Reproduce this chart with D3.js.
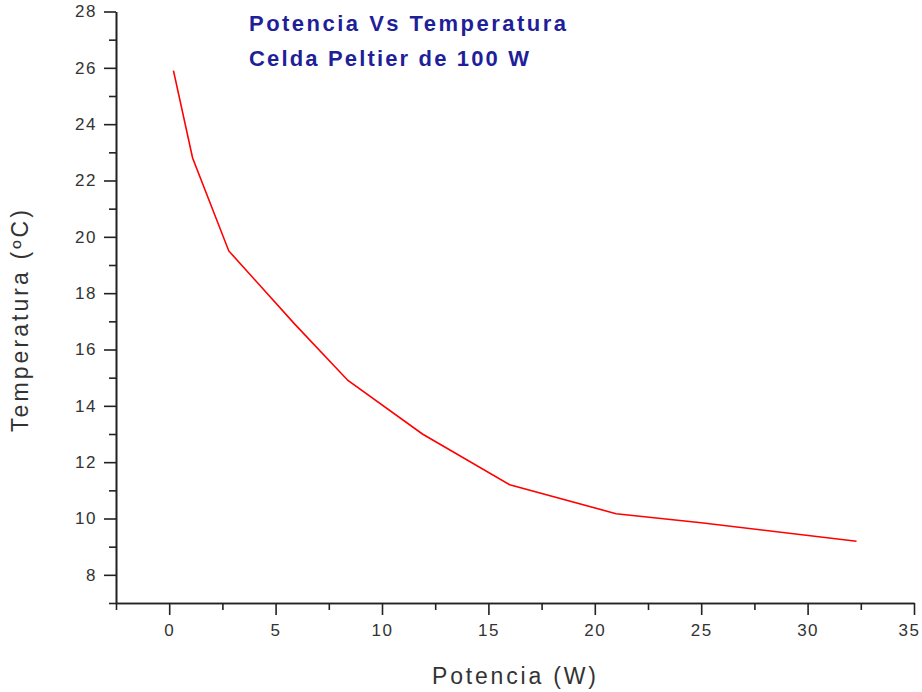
<!DOCTYPE html>
<html>
<head>
<meta charset="utf-8">
<script src="https://cdn.jsdelivr.net/npm/d3@7"></script>
<style>
  body { margin: 0; background: #fff; }
  svg { display: block; font-family: "Liberation Sans", Arial, sans-serif; }
</style>
</head>
<body>
<div id="chart"></div>
<script>
// values
const potencia = [0.2, 1.1, 2.8, 5.9, 8.4, 11.9, 16.0, 21.0, 25.0, 32.3];
const temperatura = [25.9, 22.8, 19.5, 16.9, 14.9, 13.0, 11.2, 10.17, 9.85, 9.19];
const xMajorTicks = [0, 5, 10, 15, 20, 25, 30, 35];
const xMinorTicks = [-2.5, 2.5, 7.5, 12.5, 17.5, 22.5, 27.5, 32.5];
const yMajorTicks = [8, 10, 12, 14, 16, 18, 20, 22, 24, 26, 28];
const yMinorTicks = [7, 9, 11, 13, 15, 17, 19, 21, 23, 25, 27];
const titleLines = ["Potencia Vs Temperatura", "Celda Peltier de 100 W"];

const width = 922, height = 692;
const plot = { left: 116, right: 914, top: 11.5, bottom: 603 };

const svg = d3.select("#chart").append("svg")
  .attr("width", width)
  .attr("height", height);

const x = d3.scaleLinear().domain([-2.5, 35]).range([plot.left, plot.right]);
const y = d3.scaleLinear().domain([7, 28]).range([plot.bottom, plot.top]);

const axisColor = "#222";
const labelColor = "#333";

function styleAxis(g) {
  g.select(".domain").attr("stroke", axisColor).attr("stroke-width", 1.6);
  g.selectAll(".tick line").attr("stroke", axisColor).attr("stroke-width", 1.6);
  g.selectAll(".tick text")
    .attr("fill", labelColor)
    .style("font-size", "17px")
    .style("letter-spacing", "1.5px");
}

// minor ticks first, then major ticks with labels
svg.append("g")
  .attr("transform", `translate(0,${plot.bottom})`)
  .call(d3.axisBottom(x).tickValues(xMinorTicks).tickSize(7).tickFormat("").tickSizeOuter(0))
  .call(styleAxis);

const xAxis = svg.append("g")
  .attr("transform", `translate(0,${plot.bottom})`)
  .call(d3.axisBottom(x).tickValues(xMajorTicks).tickSize(12).tickPadding(9).tickSizeOuter(0))
  .call(styleAxis);

// last label sits at the window edge, as in the original
xAxis.selectAll(".tick text").filter(d => d === 35).attr("dx", -5);

svg.append("g")
  .attr("transform", `translate(${plot.left},0)`)
  .call(d3.axisLeft(y).tickValues(yMinorTicks).tickSize(7).tickFormat("").tickSizeOuter(0))
  .call(styleAxis);

svg.append("g")
  .attr("transform", `translate(${plot.left},0)`)
  .call(d3.axisLeft(y).tickValues(yMajorTicks).tickSize(12).tickPadding(7).tickSizeOuter(0))
  .call(styleAxis);

// data line
const points = potencia.map((p, i) => [p, temperatura[i]]);
svg.append("path")
  .datum(points)
  .attr("fill", "none")
  .attr("stroke", "#ff0000")
  .attr("stroke-width", 1.6)
  .attr("d", d3.line().x(d => x(d[0])).y(d => y(d[1])));

// axis titles
svg.append("text")
  .attr("x", 432)
  .attr("y", 684)
  .attr("fill", labelColor)
  .style("font-size", "23px")
  .attr("textLength", 164)
  .attr("lengthAdjust", "spacing")
  .text("Potencia (W)");

svg.append("text")
  .attr("transform", "translate(28,432) rotate(-90)")
  .attr("fill", labelColor)
  .style("font-size", "23px")
  .attr("textLength", 222)
  .attr("lengthAdjust", "spacing")
  .text("Temperatura (ºC)");

// chart title
const titleLengths = [317, 280];
titleLines.forEach((line, i) => {
  svg.append("text")
    .attr("x", 249)
    .attr("y", 31 + i * 35)
    .attr("fill", "#1f1f99")
    .style("font-size", "22px")
    .style("font-weight", "bold")
    .attr("textLength", titleLengths[i])
    .attr("lengthAdjust", "spacing")
    .text(line);
});
</script>
</body>
</html>
